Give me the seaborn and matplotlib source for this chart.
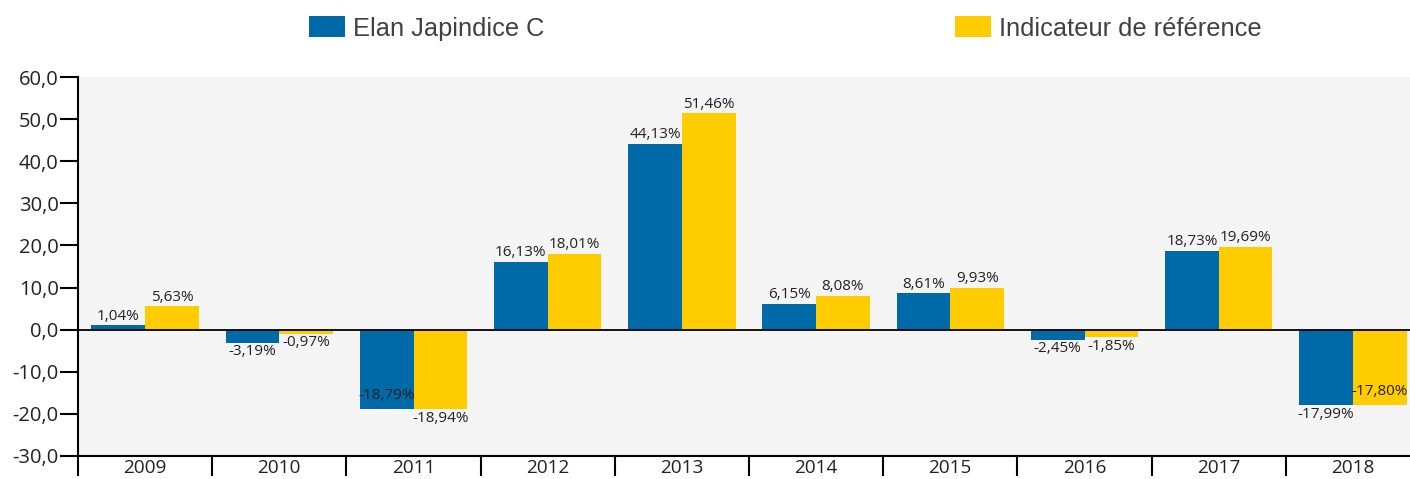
import matplotlib
matplotlib.use("Agg")
import matplotlib.pyplot as plt
from matplotlib.patches import Rectangle
from matplotlib.ticker import FixedLocator, FuncFormatter
import seaborn as sns
import pandas as pd

years = ["2009", "2010", "2011", "2012", "2013", "2014", "2015", "2016", "2017", "2018"]
series_names = ["Elan Japindice C", "Indicateur de référence"]
fund_values = [1.04, -3.19, -18.79, 16.13, 44.13, 6.15, 8.61, -2.45, 18.73, -17.99]
bench_values = [5.63, -0.97, -18.94, 18.01, 51.46, 8.08, 9.93, -1.85, 19.69, -17.80]
y_ticks = [-30, -20, -10, 0, 10, 20, 30, 40, 50, 60]

# labels drawn inside the bar (as in the reference)
inside_labels = {(2, 0), (9, 1)}

BLUE = "#0069a8"
YELLOW = "#ffcc00"

df = pd.DataFrame({
    "year": years * 2,
    "series": [series_names[0]] * len(years) + [series_names[1]] * len(years),
    "value": fund_values + bench_values,
})

sns.set_theme(style="white")
plt.rcParams["font.family"] = ["Open Sans", "DejaVu Sans"]

W, H = 1410, 479
fig = plt.figure(figsize=(W / 100, H / 100), dpi=100)
ax = fig.add_axes([78 / W, (H - 456) / H, (1420 - 78) / W, (456 - 77) / H])
ax.set_facecolor("#f4f4f4")

sns.barplot(data=df, x="year", y="value", hue="series", order=years,
            hue_order=series_names, palette=[BLUE, YELLOW], saturation=1,
            width=0.8, linewidth=0, legend=False, ax=ax, errorbar=None)

ax.set_xlim(-0.5, len(years) - 0.5)
ax.set_ylim(-30, 60)
ax.set_xlabel("")
ax.set_ylabel("")

# spines
for s in ["top", "right"]:
    ax.spines[s].set_visible(False)
for s in ["left", "bottom"]:
    ax.spines[s].set_color("black")
    ax.spines[s].set_linewidth(1.5)
ax.axhline(0, color="black", lw=1.3, zorder=3)

# y ticks
ax.yaxis.set_major_locator(FixedLocator(y_ticks))
ax.yaxis.set_major_formatter(FuncFormatter(lambda v, p: f"{v:.1f}".replace(".", ",")))
ax.tick_params(axis="y", which="major", length=13, width=1.5, color="black",
               labelsize=14.5, labelcolor="#222222", pad=1, left=True)

# x ticks: labels at centers, tick marks at category boundaries
ax.tick_params(axis="x", which="major", length=0, labelsize=13.7, labelcolor="#222222", pad=2)
ax.xaxis.set_minor_locator(FixedLocator([i - 0.5 for i in range(len(years) + 1)]))
ax.tick_params(axis="x", which="minor", length=14.5, width=1.5, color="black", bottom=True)

# value labels
for hi, cont in enumerate(ax.containers):
    for i, bar in enumerate(cont):
        v = bench_values[i] if hi == 1 else fund_values[i]
        txt = f"{v:.2f}%".replace(".", ",")
        xc = bar.get_x() + bar.get_width() / 2
        if (i, hi) in inside_labels:
            ax.annotate(txt, (xc, v), xytext=(0, 4), textcoords="offset points",
                        ha="center", va="bottom", fontsize=11, color="#222222")
        elif v >= 0:
            ax.annotate(txt, (xc, v), xytext=(0, 1), textcoords="offset points",
                        ha="center", va="bottom", fontsize=11, color="#222222")
        else:
            ax.annotate(txt, (xc, v), xytext=(0, -1), textcoords="offset points",
                        ha="center", va="top", fontsize=11, color="#222222")

# legend
legend_items = [(309, BLUE, series_names[0]), (955, YELLOW, series_names[1])]
for x0, col, name in legend_items:
    fig.patches.append(Rectangle((x0 / W, (H - 37) / H), 36 / W, 21 / H,
                                 transform=fig.transFigure, facecolor=col,
                                 edgecolor="none"))
    fig.text((x0 + 44) / W, (H - 29) / H, name, ha="left", va="center",
             fontsize=18.3, color="#404040", family=["Liberation Sans", "DejaVu Sans"])

fig.savefig("out.png", dpi=100)
